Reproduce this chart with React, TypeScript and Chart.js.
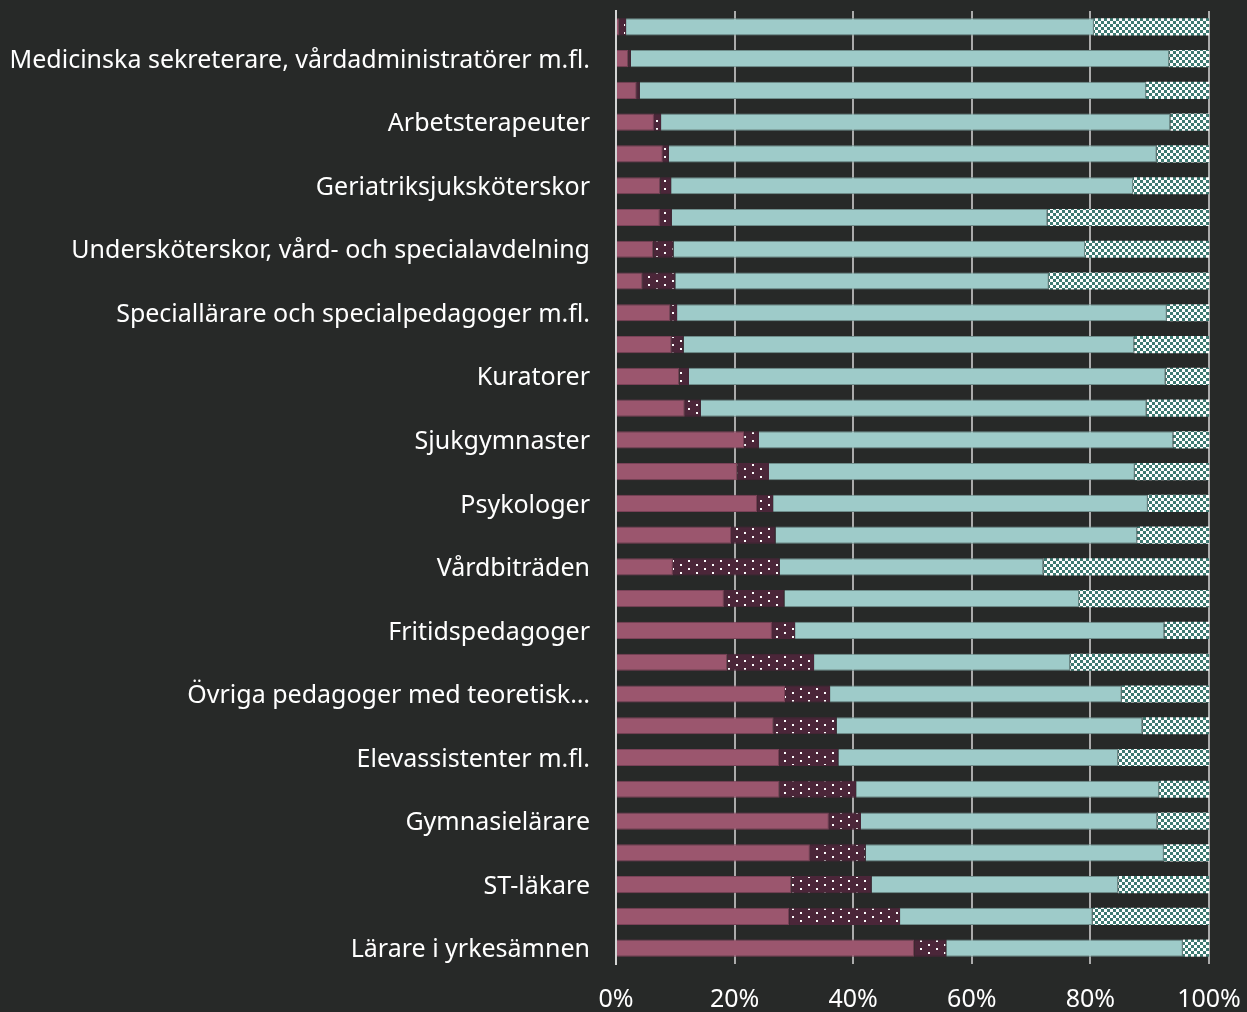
import React, { useEffect, useRef } from 'react';
import { Chart, registerables } from 'chart.js';

Chart.register(...registerables);

const categories: string[] = [
  '',
  'Medicinska sekreterare, vårdadministratörer m.fl.',
  '',
  'Arbetsterapeuter',
  '',
  'Geriatriksjuksköterskor',
  '',
  'Undersköterskor, vård- och specialavdelning',
  '',
  'Speciallärare och specialpedagoger m.fl.',
  '',
  'Kuratorer',
  '',
  'Sjukgymnaster',
  '',
  'Psykologer',
  '',
  'Vårdbiträden',
  '',
  'Fritidspedagoger',
  '',
  'Övriga pedagoger med teoretisk…',
  '',
  'Elevassistenter m.fl.',
  '',
  'Gymnasielärare',
  '',
  'ST-läkare',
  '',
  'Lärare i yrkesämnen',
];

const seriesA: number[] = [
  0.6, 2.1, 3.5, 6.4, 7.9, 7.5, 7.4, 6.3, 4.5, 9.2,
  9.4, 10.7, 11.6, 21.6, 20.5, 23.8, 19.4, 9.6, 18.2, 26.3,
  18.8, 28.5, 26.6, 27.5, 27.6, 35.9, 32.7, 29.6, 29.2, 50.3,
];
const seriesB: number[] = [
  1.1, 0.4, 0.5, 1.2, 1.0, 1.8, 2.0, 3.4, 5.5, 1.1,
  2.0, 1.6, 2.7, 2.5, 5.3, 2.7, 7.5, 18.0, 10.2, 3.9,
  14.6, 7.6, 10.6, 10.0, 12.9, 5.4, 9.4, 13.5, 18.7, 5.4,
];
const seriesC: number[] = [
  78.9, 90.8, 85.4, 85.9, 82.3, 77.9, 63.4, 69.4, 63.0, 82.6,
  76.0, 80.4, 75.2, 69.9, 61.7, 63.2, 61.0, 44.5, 49.7, 62.3,
  43.2, 49.2, 51.6, 47.2, 51.1, 50.0, 50.3, 41.6, 32.5, 39.9,
];
const seriesD: number[] = [
  19.4, 6.7, 10.6, 6.5, 8.8, 12.8, 27.2, 20.9, 27.0, 7.1,
  12.6, 7.3, 10.5, 6.0, 12.5, 10.3, 12.1, 27.9, 21.9, 7.5,
  23.4, 14.7, 11.2, 15.3, 8.4, 8.7, 7.6, 15.3, 19.6, 4.4,
];

const xTickLabels: string[] = ['0%', '20%', '40%', '60%', '80%', '100%'];

const FONT = '"Noto Sans", sans-serif';

function makeDots(ctx: CanvasRenderingContext2D): CanvasPattern | string {
  const c = document.createElement('canvas');
  c.width = 16;
  c.height = 8;
  const g = c.getContext('2d')!;
  g.fillStyle = '#4b2639';
  g.fillRect(0, 0, 16, 8);
  g.fillStyle = '#ffffff';
  g.fillRect(0, 0, 2, 2);
  g.fillRect(8, 4, 2, 2);
  return ctx.createPattern(c, 'repeat') || '#4b2639';
}

function makeChecker(ctx: CanvasRenderingContext2D): CanvasPattern | string {
  const c = document.createElement('canvas');
  c.width = 6;
  c.height = 6;
  const g = c.getContext('2d')!;
  g.fillStyle = '#ffffff';
  g.fillRect(0, 0, 6, 6);
  g.fillStyle = '#3e7a72';
  g.fillRect(0, 0, 3, 3);
  g.fillRect(3, 3, 3, 3);
  return ctx.createPattern(c, 'repeat') || '#3e7a72';
}

export default function App() {
  const ref = useRef<HTMLCanvasElement | null>(null);

  useEffect(() => {
    document.body.style.margin = '0';
    document.body.style.background = '#272928';
    const canvas = ref.current!;
    const ctx = canvas.getContext('2d')!;
    const chart = new Chart(ctx, {
      type: 'bar',
      data: {
        labels: categories,
        datasets: [
          {
            label: 'A',
            data: seriesA,
            backgroundColor: '#9b566e',
            borderColor: '#7a4258',
            borderWidth: 1,
          },
          {
            label: 'B',
            data: seriesB,
            backgroundColor: makeDots(ctx) as any,
            borderColor: '#4b2639',
            borderWidth: 1,
          },
          {
            label: 'C',
            data: seriesC,
            backgroundColor: '#9ecbc9',
            borderColor: '#6f8e8c',
            borderWidth: 1,
          },
          {
            label: 'D',
            data: seriesD,
            backgroundColor: makeChecker(ctx) as any,
            borderColor: '#6f8e8c',
            borderWidth: 0,
          },
        ],
      },
      options: {
        indexAxis: 'y',
        responsive: false,
        animation: false,
        maintainAspectRatio: false,
        datasets: {
          bar: {
            barPercentage: 0.54,
            categoryPercentage: 1,
          },
        },
        layout: { padding: { top: 11, right: 38, bottom: 0, left: 0 } },
        plugins: {
          legend: { display: false },
          tooltip: { enabled: false },
        },
        scales: {
          x: {
            stacked: true,
            min: 0,
            max: 100,
            grid: { color: '#ababab', lineWidth: 2, drawTicks: false },
            border: { display: false },
            afterFit: (s: any) => {
              s.height = 48;
              s.paddingLeft = 0;
              s.paddingRight = 0;
              s.paddingTop = 0;
              s.paddingBottom = 0;
            },
            ticks: {
              stepSize: 20,
              padding: 21,
              color: '#ffffff',
              font: { family: FONT, size: 25 },
              maxRotation: 0,
              callback: (_v: any, i: number) => xTickLabels[i],
            },
          },
          y: {
            stacked: true,
            grid: { display: false, drawTicks: false },
            border: { display: true, color: '#d4d4d4', width: 2 },
            afterFit: (s: any) => {
              s.width = 616;
              s.paddingLeft = 0;
              s.paddingRight = 0;
              s.paddingTop = 0;
              s.paddingBottom = 0;
            },
            ticks: {
              autoSkip: false,
              padding: 26,
              labelOffset: 2,
              color: '#ffffff',
              font: { family: FONT, size: 25 },
              callback: (_v: any, i: number) => categories[i],
            },
          },
        },
      },
    });
    return () => chart.destroy();
  }, []);

  return (
    <div style={{ position: 'fixed', left: 0, top: 0, width: 1247, height: 1012, background: '#272928' }}>
      <canvas ref={ref} width={1247} height={1012} style={{ display: 'block' }} />
    </div>
  );
}
